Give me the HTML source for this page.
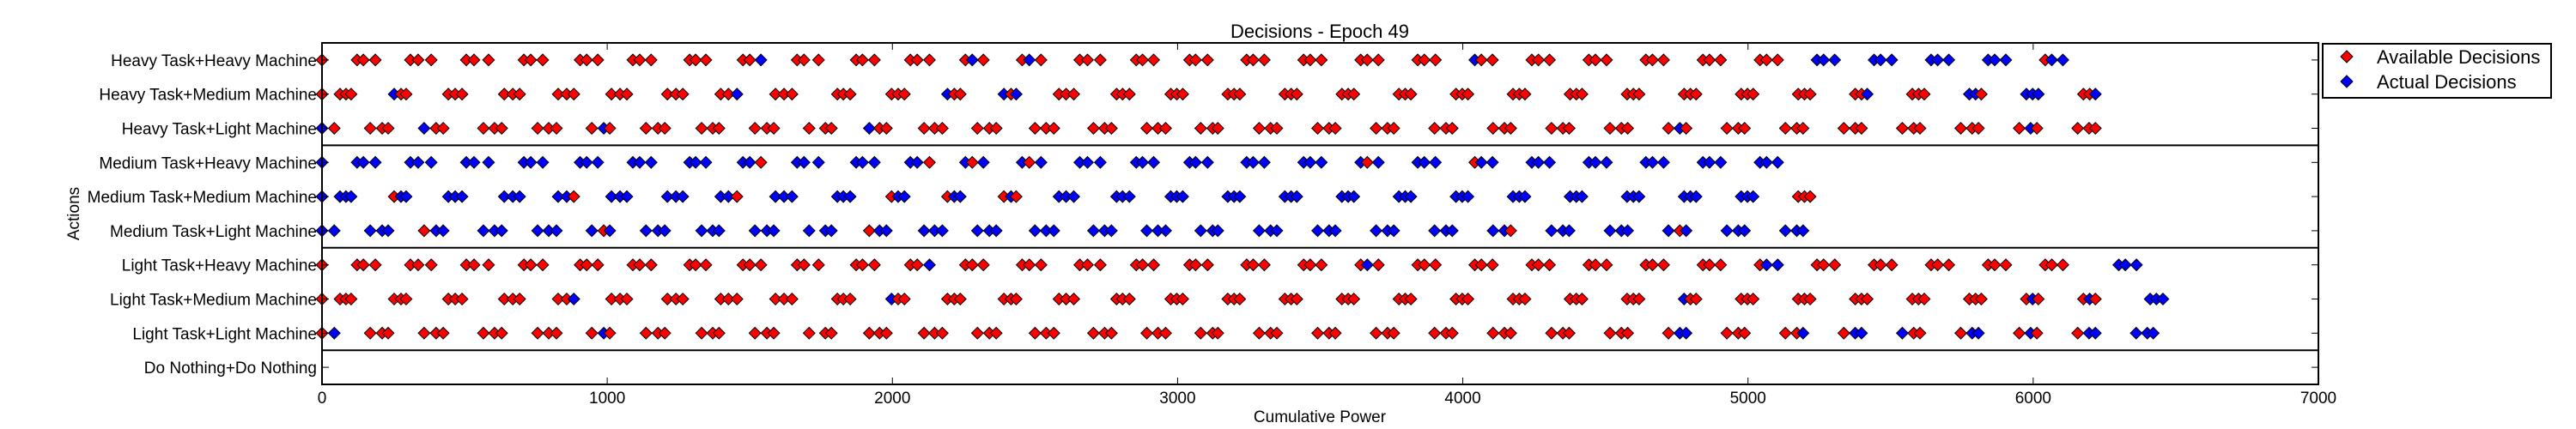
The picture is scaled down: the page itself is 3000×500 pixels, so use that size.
<!DOCTYPE html>
<html><head><meta charset="utf-8"><style>
html,body{margin:0;padding:0;background:#fff;}
svg{display:block;font-family:"Liberation Sans","DejaVu Sans",sans-serif;}
</style></head><body>
<svg id="chart" width="3000" height="500" viewBox="0 0 3000 500" xmlns="http://www.w3.org/2000/svg">
<rect width="3000" height="500" fill="#fff"/>
<text x="1537" y="44" text-anchor="middle" font-size="22">Decisions - Epoch 49</text>
<text x="1537" y="492" text-anchor="middle" font-size="19">Cumulative Power</text>
<text transform="translate(92,249) rotate(-90)" text-anchor="middle" font-size="19">Actions</text>
<g id="plot"></g>
<g id="legend">
<rect x="2705" y="51" width="266" height="63" fill="#fff" stroke="#000" stroke-width="2"/>
<polygon points="2733,59 2740,66 2733,73 2726,66" fill="#f00" stroke="#000" stroke-width="1"/>
<text x="2768" y="74" font-size="22">Available Decisions</text>
<polygon points="2733,88 2740,95 2733,102 2726,95" fill="#00f" stroke="#000" stroke-width="1"/>
<text x="2768" y="103" font-size="22">Actual Decisions</text>
</g>
</svg>
<script>
const xTicks = [0,1000,2000,3000,4000,5000,6000,7000];
const yLabels = ["Do Nothing+Do Nothing","Light Task+Light Machine","Light Task+Medium Machine","Light Task+Heavy Machine","Medium Task+Light Machine","Medium Task+Medium Machine","Medium Task+Heavy Machine","Heavy Task+Light Machine","Heavy Task+Medium Machine","Heavy Task+Heavy Machine"];
const heavyMachineX = [0,123,145,187,310,337,383,506,533,584,708,732,774,905,928,967,1090,1114,1154,1289,1310,1346,1476,1500,1539,1666,1690,1741,1873,1895,1937,2063,2087,2130,2256,2280,2319,2455,2480,2521,2657,2684,2729,2855,2877,2916,3042,3063,3105,3242,3265,3304,3442,3465,3504,3642,3665,3704,3842,3865,3904,4042,4065,4104,4242,4265,4304,4442,4465,4504,4642,4665,4704,4842,4865,4904,5042,5065,5104,5242,5265,5304,5442,5465,5504,5642,5665,5704,5842,5865,5904,6042,6065,6104,6300,6323,6362];
const mediumMachineX = [0,63,84,102,253,277,295,443,467,491,639,669,693,828,858,883,1015,1045,1069,1211,1241,1265,1398,1425,1455,1590,1620,1648,1807,1828,1852,1997,2020,2042,2193,2217,2238,2391,2416,2434,2584,2609,2636,2786,2807,2831,2976,2997,3018,3176,3198,3218,3376,3398,3418,3576,3598,3618,3776,3798,3818,3976,3998,4018,4176,4198,4218,4376,4398,4418,4576,4598,4618,4776,4798,4818,4976,4998,5018,5176,5198,5218,5376,5398,5418,5576,5598,5618,5776,5798,5818,5976,5998,6018,6176,6198,6218,6410,6432,6455];
const lightMachineX = [0,43,169,211,232,358,400,425,566,605,630,756,795,822,946,988,1009,1136,1178,1202,1331,1370,1392,1518,1560,1584,1708,1765,1786,1919,1955,1979,2111,2148,2175,2298,2340,2364,2500,2539,2566,2705,2744,2768,2892,2931,2958,3081,3123,3141,3286,3326,3348,3491,3531,3553,3696,3736,3758,3901,3941,3963,4106,4146,4168,4311,4351,4373,4516,4556,4578,4721,4761,4783,4926,4966,4988,5131,5171,5193,5336,5376,5398,5541,5581,5603,5746,5786,5808,5951,5991,6013,6156,6196,6218,6361,6400,6421];
// rows indexed by yLabels position (0 = bottom)
const rowMachine = [null,"L","M","H","L","M","H","L","M","H"];
const rowCount = [0,98,100,97,80,82,79,95,97,94];
// r = available only (red), b = actual decision (blue)
const rowMask = [
 "",
 "rb rrr rrr rrr rrr rbr rrr rrr rrr rrr rrr rrr rrr rrr rrr rrr rrr rrr rrr rrr rrr rrr rrr rrr rbb rrr rrb rbb brr rbb rbr rbb bbb",
 "r rrr rrr rrr rrr rrb rrr rrr rrr rrr rrr brr rrr rrr rrr rrr rrr rrr rrr rrr rrr rrr rrr rrr rrr brr rrr rrr rrr rrr rrr rbr rbr bbb",
 "r rrr rrr rrr rrr rrr rrr rrr rrr rrr rrr rrb rrr rrr rrr rrr rrr rrr rrr rbr rrr rrr rrr rrr rrr rrr rbb rrr rrr rrr rrr rrr bbb",
 "bb bbb rbb bbb bbb brb bbb bbb bbb bbb rbb bbb bbb bbb bbb bbb bbb bbb bbb bbb bbb bbr bbb bbb brb bbb bbb",
 "b bbb rbb bbb bbb bbr bbb bbb bbr bbb bbb rbb rbb rbr bbb bbb bbb bbb bbb bbb bbb bbb bbb bbb bbb bbb bbb",
 "b bbb bbb bbb bbb bbb bbb bbb bbr bbb bbb bbr brb brb bbb bbb bbb bbb bbb brb bbb rbb bbb bbb bbb bbb bbb",
 "br rrr brr rrr rrr rbr rrr rrr rrr rrr brr rrr rrr rrr rrr rrr rrr rrr rrr rrr rrr rrr rrr rrr rbr rrr rrr rrr rrr rrr rbr rrr",
 "r rrr brr rrr rrr rrr rrr rrr rrb rrr rrr rrr brr brb rrr rrr rrr rrr rrr rrr rrr rrr rrr rrr rrr rrr rrr rrr rrb rrr bbr bbb rrb",
 "r rrr rrr rrr rrr rrr rrr rrr rrb rrr rrr rrr rbr rbr rrr rrr rrr rrr rrr rrr rrr brr rrr rrr rrr rrr rrr bbb bbb bbb bbb rbb"
];
const NS = "http://www.w3.org/2000/svg";
const X0 = 375, X1 = 2700, Y0 = 50, Y1 = 448;
function xScale(v){ return X0 + (v - 0) / 7000 * (X1 - X0); }
function yScale(i){ return Y1 - (i + 0.5) * (Y1 - Y0) / 10; }
const plot = document.getElementById("plot");
function mk(tag, attrs){ const e = document.createElementNS(NS, tag); for (const k in attrs) e.setAttribute(k, attrs[k]); plot.appendChild(e); return e; }
mk("rect", {x:X0, y:Y0, width:X1-X0, height:Y1-Y0, fill:"#fff"});
// group separators
[0.5, 3.5, 6.5].forEach(function(g){
  const ln = mk("line", {x1:X0, x2:X1, y1:yScale(g), y2:yScale(g), stroke:"#000", "stroke-width":2});
  
  
});
// markers
const bases = {H: heavyMachineX, M: mediumMachineX, L: lightMachineX};
for (let i = 0; i < yLabels.length; i++) {
  if (!rowMachine[i]) continue;
  const xs = bases[rowMachine[i]].slice(0, rowCount[i]);
  const mask = rowMask[i].replace(/\s+/g, "");
  const y = yScale(i);
  xs.forEach(function(v, j){
    const c = mask[j] === "b" ? "#00f" : "#f00";
    const cx = xScale(v), h = 6.8;
    const p = mk("polygon", {points: cx+","+(y-h)+" "+(cx+h)+","+y+" "+cx+","+(y+h)+" "+(cx-h)+","+y, fill:c, stroke:"#000", "stroke-width":1});
    
    
  });
}
// frame
const fr = mk("rect", {x:X0, y:Y0, width:X1-X0, height:Y1-Y0, fill:"none", stroke:"#000", "stroke-width":2});


// x ticks
xTicks.forEach(function(t){
  const x = xScale(t);
  mk("line", {x1:x, x2:x, y1:Y1, y2:Y1-8, stroke:"#000", "stroke-width":1});
  mk("line", {x1:x, x2:x, y1:Y0, y2:Y0+8, stroke:"#000", "stroke-width":1});
  const tl = mk("text", {x:x, y:Y1+22, "text-anchor":"middle", "font-size":19});
  tl.textContent = String(t);
  
  
});
// y ticks
yLabels.forEach(function(lab, i){
  const y = yScale(i);
  mk("line", {x1:X0, x2:X0+8, y1:y, y2:y, stroke:"#000", "stroke-width":1});
  mk("line", {x1:X1, x2:X1-8, y1:y, y2:y, stroke:"#000", "stroke-width":1});
  const tl = mk("text", {x:X0-6, y:y+7, "text-anchor":"end", "font-size":19});
  tl.textContent = lab;
  
  
});
</script>
</body></html>
